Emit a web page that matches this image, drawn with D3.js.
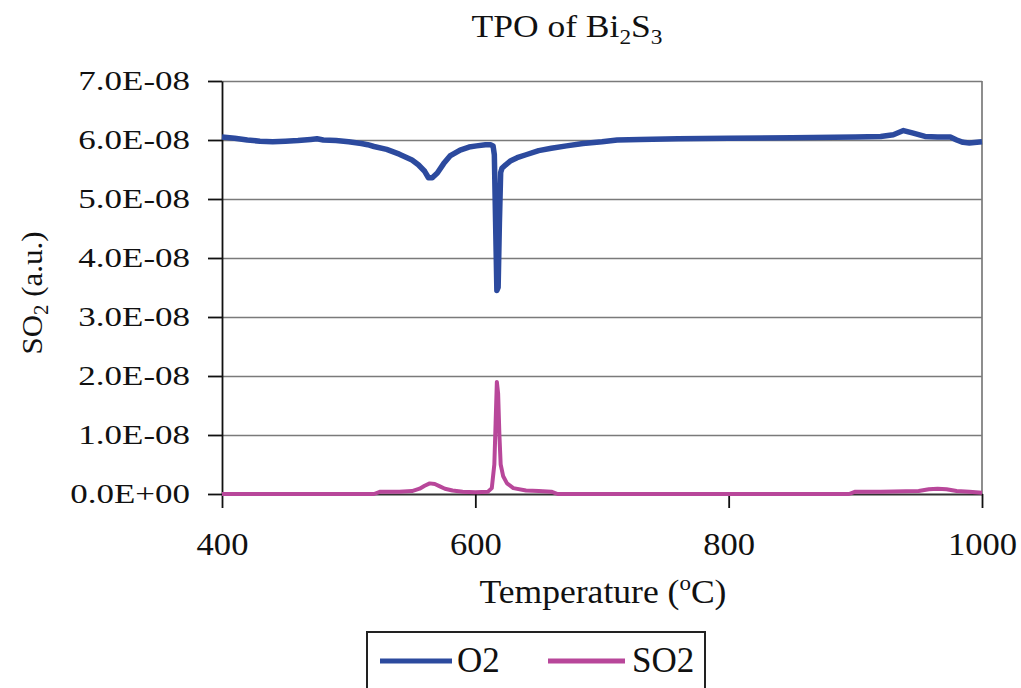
<!DOCTYPE html>
<html>
<head>
<meta charset="utf-8">
<script src="https://cdn.jsdelivr.net/npm/d3@7/dist/d3.min.js"></script>
<style>
  html, body { margin: 0; padding: 0; background: #fff; }
  svg { display: block; font-family: "Liberation Serif", "Times New Roman", serif; }
</style>
</head>
<body>
<div id="chart"></div>
<script>
// ---------------------------------------------------------
// data; signal values in units of 1e-8 a.u.
// ---------------------------------------------------------
const o2Temp = [400, 410, 420, 430, 440, 450, 460, 470, 475, 480, 490, 500, 510, 515, 520, 530, 540, 550,
  555, 560, 563, 566, 570, 575, 580, 588, 595, 601, 608, 612, 614, 615, 616, 617, 618, 619, 620, 621,
  624, 628, 633, 640, 650, 660, 672, 685, 700, 712, 730, 760, 800, 850, 900, 920, 930, 938, 945, 955,
  965, 975, 980, 985, 990, 1000];
const o2Val = [6.05, 6.03, 6.0, 5.98, 5.97, 5.98, 5.99, 6.01, 6.02, 6.0, 5.99, 5.97, 5.94, 5.92, 5.89, 5.84, 5.76, 5.66,
  5.58, 5.47, 5.36, 5.36, 5.44, 5.6, 5.73, 5.83, 5.88, 5.9, 5.92, 5.92, 5.9, 5.75, 4.6, 3.45, 3.5, 4.6, 5.45, 5.52,
  5.58, 5.65, 5.7, 5.75, 5.82, 5.86, 5.9, 5.94, 5.97, 6.0, 6.01, 6.02, 6.03, 6.04, 6.05, 6.06, 6.09, 6.16, 6.12, 6.06,
  6.05, 6.05, 6.0, 5.96, 5.95, 5.97];

const so2Temp = [400, 520, 525, 540, 550, 556, 560, 564, 568, 572, 576, 582, 590, 600, 610, 613, 615, 616, 617,
  618, 619, 620, 622, 625, 630, 640, 650, 660, 665, 895, 900, 920, 950, 958, 965, 972, 980, 990, 1000];
const so2Val = [0, 0, 0.04, 0.04, 0.05, 0.09, 0.14, 0.18, 0.17, 0.13, 0.09, 0.06, 0.04, 0.03, 0.04, 0.1, 0.5, 1.2, 1.9,
  1.7, 1.0, 0.5, 0.3, 0.18, 0.1, 0.06, 0.05, 0.04, 0, 0, 0.04, 0.04, 0.05, 0.08, 0.09, 0.08, 0.05, 0.04, 0.02];

const xTicks = [400, 600, 800, 1000];
const yTicks = [0, 1, 2, 3, 4, 5, 6, 7];   // x 1e-8
const seriesNames = ['O2', 'SO2'];
const COLORS = { O2: '#2c4a9e', SO2: '#b8479a' };

const UNIT = 1e-8;
const W = 1021, H = 688;
const M = { top: 81, right: 39, bottom: 194, left: 222 };
const innerW = W - M.left - M.right, innerH = H - M.top - M.bottom;

const svg = d3.select('#chart').append('svg').attr('width', W).attr('height', H);
svg.append('rect').attr('width', W).attr('height', H).attr('fill', '#fff');
const g = svg.append('g').attr('transform', `translate(${M.left},${M.top})`);

const x = d3.scaleLinear().domain([400, 1000]).range([0, innerW]);
const y = d3.scaleLinear().domain([0, 7 * UNIT]).range([innerH, 0]);

function sci(d) {
  if (Math.abs(d) < 1e-20) return '0.0E+00';
  const e = Math.floor(Math.log10(d) + 1e-9);
  const m = d / Math.pow(10, e);
  return m.toFixed(1) + 'E' + (e < 0 ? '-' : '+') + String(Math.abs(e)).padStart(2, '0');
}

// squeeze / widen a text horizontally around its anchor point
function stretch(sel, k) {
  sel.each(function () {
    const t = d3.select(this);
    const ax = +t.attr('x') || 0;
    t.attr('transform', `translate(${ax},0) scale(${k},1) translate(${-ax},0)`);
  });
}
function fitWidth(sel, w) {
  sel.each(function () { stretch(d3.select(this), w / this.getBBox().width); });
}

// gridlines
g.append('g')
  .call(d3.axisLeft(y).tickValues(yTicks.filter(d => d > 0).map(d => d * UNIT)).tickSize(-innerW).tickFormat(''))
  .call(s => s.select('.domain').remove())
  .call(s => s.selectAll('line').attr('stroke', '#7a7a7a').attr('stroke-width', 1.7));

// right plot border
g.append('line').attr('x1', innerW).attr('x2', innerW).attr('y1', 0).attr('y2', innerH)
  .attr('stroke', '#7a7a7a').attr('stroke-width', 1.7);

// axes
const yAxis = g.append('g')
  .call(d3.axisLeft(y).tickValues(yTicks.map(d => d * UNIT)).tickSize(14).tickSizeOuter(0).tickPadding(18).tickFormat(sci));
yAxis.select('.domain').attr('stroke', '#111').attr('stroke-width', 1.8);
yAxis.selectAll('line').attr('stroke', '#111').attr('stroke-width', 1.8);
yAxis.selectAll('text').attr('fill', '#111').style('font-size', '26.5px')
  .style('font-family', '"Liberation Serif", serif');
stretch(yAxis.selectAll('text'), 1.32);

const xAxis = g.append('g').attr('transform', `translate(0,${innerH})`)
  .call(d3.axisBottom(x).tickValues(xTicks).tickSize(14).tickSizeOuter(0).tickFormat(d3.format('d')));
xAxis.select('.domain').attr('stroke', '#333').attr('stroke-width', 2);
xAxis.selectAll('line').attr('stroke', '#111').attr('stroke-width', 1.8);
xAxis.selectAll('text').attr('fill', '#111').attr('y', 61).attr('dy', 0)
  .style('font-size', '32px').style('font-family', '"Liberation Serif", serif');
stretch(xAxis.selectAll('text'), 1.08);

// series
const line = d3.line().x(d => x(d[0])).y(d => y(d[1] * UNIT));
const seriesData = {
  O2: d3.zip(o2Temp, o2Val),
  SO2: d3.zip(so2Temp, so2Val),
};
g.append('path').datum(seriesData.SO2)
  .attr('fill', 'none').attr('stroke', COLORS.SO2).attr('stroke-width', 4)
  .attr('stroke-linejoin', 'round').attr('d', line);
g.append('path').datum(seriesData.O2)
  .attr('fill', 'none').attr('stroke', COLORS.O2).attr('stroke-width', 5.5)
  .attr('stroke-linejoin', 'round').attr('d', line);

// title
const title = svg.append('text').attr('x', 567).attr('y', 37).attr('text-anchor', 'middle')
  .style('font-size', '32px').attr('fill', '#111');
title.append('tspan').text('TPO of Bi');
title.append('tspan').attr('dy', 7).style('font-size', '21px').text('2');
title.append('tspan').attr('dy', -7).text('S');
title.append('tspan').attr('dy', 7).style('font-size', '21px').text('3');
fitWidth(title, 191);

// x axis title
const xt = svg.append('text').attr('x', 603).attr('y', 603).attr('text-anchor', 'middle')
  .style('font-size', '34px').attr('fill', '#111');
xt.append('tspan').text('Temperature (');
xt.append('tspan').attr('dy', -13).style('font-size', '22px').text('o');
xt.append('tspan').attr('dy', 13).text('C)');
fitWidth(xt, 247);

// y axis title
const ytG = svg.append('g').attr('transform', 'translate(42,293) rotate(-90)');
const yt = ytG.append('text').attr('x', 0).attr('y', 0).attr('text-anchor', 'middle')
  .style('font-size', '30px').attr('fill', '#111');
yt.append('tspan').text('SO');
yt.append('tspan').attr('dy', 6).style('font-size', '20px').text('2');
yt.append('tspan').attr('dy', -6).text(' (a.u.)');
fitWidth(yt, 123);

// legend
const leg = svg.append('g').attr('transform', 'translate(367,632)');
leg.append('rect').attr('width', 338).attr('height', 80)
  .attr('fill', '#fff').attr('stroke', '#222').attr('stroke-width', 2);
const legX = { O2: [13, 85, 90], SO2: [181, 258, 265] };
seriesNames.forEach(name => {
  const [a, b, tx] = legX[name];
  leg.append('line').attr('x1', a).attr('x2', b).attr('y1', 29).attr('y2', 29)
    .attr('stroke', COLORS[name]).attr('stroke-width', 5);
  leg.append('text').attr('x', tx).attr('y', 40).style('font-size', '35px')
    .attr('fill', '#111').text(name);
});
</script>
</body>
</html>
